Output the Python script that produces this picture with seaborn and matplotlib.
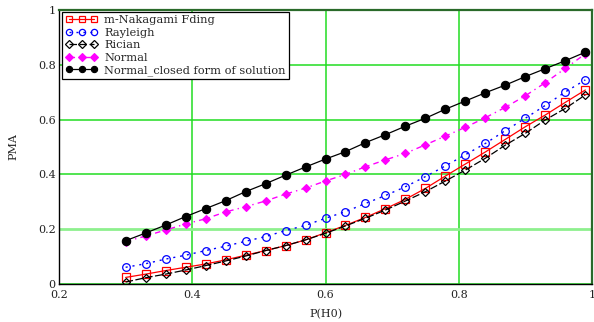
import matplotlib
matplotlib.use("Agg")
import matplotlib.pyplot as plt
import seaborn as sns

# ---- data ----
p_h0 = [0.30, 0.33, 0.36, 0.39, 0.42, 0.45, 0.48, 0.51, 0.54, 0.57, 0.60, 0.63,
        0.66, 0.69, 0.72, 0.75, 0.78, 0.81, 0.84, 0.87, 0.90, 0.93, 0.96, 0.99]
nakagami = [0.024, 0.036, 0.049, 0.061, 0.073, 0.088, 0.105, 0.122, 0.140, 0.161, 0.187, 0.214,
            0.243, 0.275, 0.309, 0.349, 0.394, 0.438, 0.482, 0.528, 0.574, 0.617, 0.663, 0.708]
rayleigh = [0.061, 0.074, 0.091, 0.105, 0.122, 0.138, 0.156, 0.173, 0.195, 0.214, 0.240, 0.264,
            0.294, 0.323, 0.355, 0.392, 0.431, 0.472, 0.513, 0.560, 0.605, 0.652, 0.701, 0.745]
rician = [0.007, 0.023, 0.036, 0.051, 0.067, 0.084, 0.102, 0.122, 0.140, 0.161, 0.185, 0.212,
          0.240, 0.270, 0.303, 0.337, 0.376, 0.416, 0.459, 0.507, 0.550, 0.599, 0.641, 0.690]
normal = [0.155, 0.175, 0.197, 0.219, 0.238, 0.263, 0.282, 0.303, 0.328, 0.350, 0.376, 0.400,
          0.428, 0.453, 0.477, 0.508, 0.540, 0.572, 0.607, 0.645, 0.687, 0.735, 0.787, 0.840]
closed_form = [0.158, 0.186, 0.215, 0.246, 0.275, 0.304, 0.337, 0.366, 0.397, 0.427, 0.456, 0.483,
               0.516, 0.545, 0.576, 0.605, 0.638, 0.668, 0.698, 0.726, 0.757, 0.786, 0.815, 0.846]

labels = ["m-Nakagami Fding", "Rayleigh", "Rician", "Normal", "Normal_closed form of solution"]
x_ticks = [0.2, 0.4, 0.6, 0.8, 1.0]
x_tick_labels = ["0.2", "0.4", "0.6", "0.8", "1"]
y_ticks = [0, 0.2, 0.4, 0.6, 0.8, 1.0]
y_tick_labels = ["0", "0.2", "0.4", "0.6", "0.8", "1"]

sns.set_style("white")
plt.rcParams["font.family"] = ["DejaVu Serif", "Liberation Serif"]

fig = plt.figure(figsize=(5.94, 3.22), dpi=100)
ax = fig.add_axes([59 / 594, 1 - 284 / 322, 533 / 594, 274 / 322])

sns.lineplot(x=p_h0, y=nakagami, ax=ax, color="red", linestyle="-", linewidth=0.9,
             marker="s", markersize=5.5, markerfacecolor="none", markeredgecolor="red",
             markeredgewidth=0.9, label=labels[0], zorder=3)
sns.lineplot(x=p_h0, y=rayleigh, ax=ax, color="blue", linestyle=(0, (1.5, 3.5)), linewidth=1,
             marker="o", markersize=5.5, markerfacecolor="none", markeredgecolor="blue",
             markeredgewidth=0.9, label=labels[1], zorder=3)
sns.lineplot(x=p_h0, y=rician, ax=ax, color="black", linestyle=(0, (6, 2)), linewidth=0.9,
             marker="D", markersize=4, markerfacecolor="none", markeredgecolor="black",
             markeredgewidth=0.9, label=labels[2], zorder=3)
sns.lineplot(x=p_h0, y=normal, ax=ax, color="magenta", linestyle=(0, (4, 3, 1, 3)), linewidth=1,
             marker="D", markersize=4.2, markerfacecolor="magenta", markeredgecolor="magenta",
             markeredgewidth=0.8, label=labels[3], zorder=3)
sns.lineplot(x=p_h0, y=closed_form, ax=ax, color="black", linestyle="-", linewidth=0.9,
             marker="o", markersize=6, markerfacecolor="black", markeredgecolor="black",
             markeredgewidth=0.8, label=labels[4], zorder=4)

ax.set_xlim(0.2, 1.0)
ax.set_ylim(0, 1.0)
ax.set_xticks(x_ticks)
ax.set_xticklabels(x_tick_labels)
ax.set_yticks(y_ticks)
ax.set_yticklabels(y_tick_labels)
ax.tick_params(axis="x", length=0, labelsize=8, pad=4, colors="#222222")
ax.tick_params(axis="y", length=0, labelsize=8, pad=2.5, colors="#222222")

ax.grid(True, color="#22dd22", linewidth=1.1)
ygl = ax.get_ygridlines()
ygl[1].set_color("#8ef08e")
ygl[1].set_linewidth(2.0)
ax.set_axisbelow(True)

for side in ["left", "bottom"]:
    ax.spines[side].set_color("black")
    ax.spines[side].set_linewidth(1.0)
for side in ["top", "right"]:
    ax.spines[side].set_color("#2a6a2a")
    ax.spines[side].set_linewidth(1.6)

ax.set_xlabel("P(H0)", fontsize=8, labelpad=7)
ax.set_ylabel("PMA", fontsize=8, labelpad=14)

leg = ax.legend(loc="upper left", bbox_to_anchor=(0.006, 0.994), borderaxespad=0,
                numpoints=3, fontsize=8.2, handlelength=2.8, handletextpad=0.6,
                labelspacing=0.22, borderpad=0.3, fancybox=False, framealpha=1)
leg.get_frame().set_edgecolor("black")
leg.get_frame().set_linewidth(0.9)
for h in leg.legend_handles:
    h.set_markersize(4.5)

fig.savefig("out.png", dpi=100)
